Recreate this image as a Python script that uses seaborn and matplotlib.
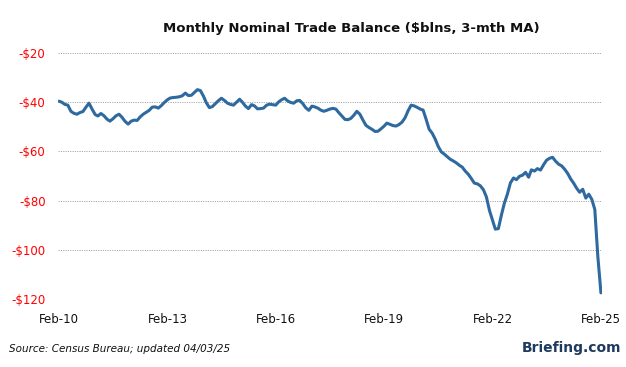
import pandas as pd
import matplotlib.pyplot as plt
import matplotlib.dates as mdates
import seaborn as sns

# 3-month moving average of the nominal trade balance, $bn, monthly Feb-2010 .. Feb-2025
balance = [
    -39.6, -40.0, -40.9, -41.2, -43.7, -44.5, -44.9, -44.2, -43.8, -42.0,
    -40.4, -42.8, -45.0, -45.6, -44.6, -45.5, -46.9, -47.7, -46.7, -45.5,
    -44.9, -46.2, -47.8, -48.9, -47.7, -47.3, -47.4, -46.0, -44.9, -44.1,
    -43.3, -42.0, -41.9, -42.4, -41.4, -40.1, -39.0, -38.3, -38.1, -38.0,
    -37.8, -37.4, -36.3, -37.3, -37.2, -36.0, -34.9, -35.3, -37.6, -40.2,
    -42.2, -41.8, -40.6, -39.4, -38.4, -39.3, -40.4, -40.9, -41.2, -40.0,
    -38.8, -40.0, -41.6, -42.6, -41.0, -41.5, -42.7, -42.6, -42.4, -41.2,
    -40.8, -41.0, -41.2, -39.9, -39.0, -38.4, -39.5, -40.1, -40.4, -39.4,
    -39.3, -40.6, -42.3, -43.3, -41.6, -41.9, -42.4, -43.2, -43.7, -43.3,
    -42.8, -42.5, -42.8, -44.3, -45.6, -47.0, -47.1, -46.6, -45.3, -43.7,
    -44.9, -47.2, -49.4, -50.3, -51.0, -51.9, -51.8, -50.8, -49.7, -48.5,
    -49.0, -49.5, -49.7, -49.1, -48.1, -46.3, -43.5, -41.2, -41.5, -42.1,
    -42.8, -43.2, -47.0, -51.0, -52.6, -55.0, -58.0, -60.2, -61.1, -62.2,
    -63.2, -63.9, -64.7, -65.6, -66.4, -68.0, -69.3, -71.0, -72.9, -73.2,
    -74.0, -75.6, -78.5, -84.0, -88.0, -91.6, -91.4, -86.0, -81.0, -77.4,
    -72.8, -70.8, -71.5, -70.1, -69.7, -68.5, -70.5, -67.5, -68.0, -67.0,
    -67.6, -65.5, -63.6, -62.8, -62.4, -64.0, -65.2, -65.9, -67.3, -68.9,
    -71.2, -72.9, -75.0, -76.6, -75.4, -79.0, -77.4, -79.5, -83.6, -102.9,
    -117.5,
]
months = pd.date_range("2010-02-01", periods=len(balance), freq="MS")
tick_years = ["2010", "2013", "2016", "2019", "2022", "2025"]
y_ticks = [-20, -40, -60, -80, -100, -120]

df = pd.DataFrame({"month": months, "balance": balance})

sns.set_style("white")
fig = plt.figure(figsize=(6.26, 3.67), dpi=100)
ax = fig.add_axes([0.0927, 0.1853, 0.869, 0.6703])

sns.lineplot(data=df, x="month", y="balance", ax=ax, color="#2e6a9f",
             linewidth=2.2, solid_capstyle="round", solid_joinstyle="round")

ax.set_ylim(-120, -20)
ax.set_yticks(y_ticks)
ax.set_yticklabels([f"-${abs(v)}" for v in y_ticks])
ax.set_xlim(pd.Timestamp("2010-01-22"), pd.Timestamp("2025-02-12"))
ax.set_xticks([pd.Timestamp(f"{y}-02-01") for y in tick_years])
ax.xaxis.set_major_formatter(mdates.DateFormatter("%b-%y"))

ax.grid(axis="y", linestyle=(0, (1.2, 1.2)), color="#a8a8a8", linewidth=0.7)
ax.grid(axis="x", visible=False)
for s in ax.spines.values():
    s.set_visible(False)
ax.tick_params(axis="y", length=0, pad=9, labelsize=8.5, labelcolor="#ff0000")
ax.tick_params(axis="x", length=0, pad=10, labelsize=8.5, labelcolor="#111111")
ax.set_xlabel("")
ax.set_ylabel("")

fig.text(0.562, 0.921, "Monthly Nominal Trade Balance ($blns, 3-mth MA)",
         ha="center", va="center", fontsize=9.5, fontweight="bold", color="#111111")
fig.text(0.014, 0.049, "Source: Census Bureau; updated 04/03/25",
         ha="left", va="center", fontsize=7.5, style="italic", color="#111111")
fig.text(0.992, 0.052, "Briefing.com", ha="right", va="center",
         fontsize=10, fontweight="bold", color="#1f3a5f")

fig.savefig("out.png", dpi=100)
